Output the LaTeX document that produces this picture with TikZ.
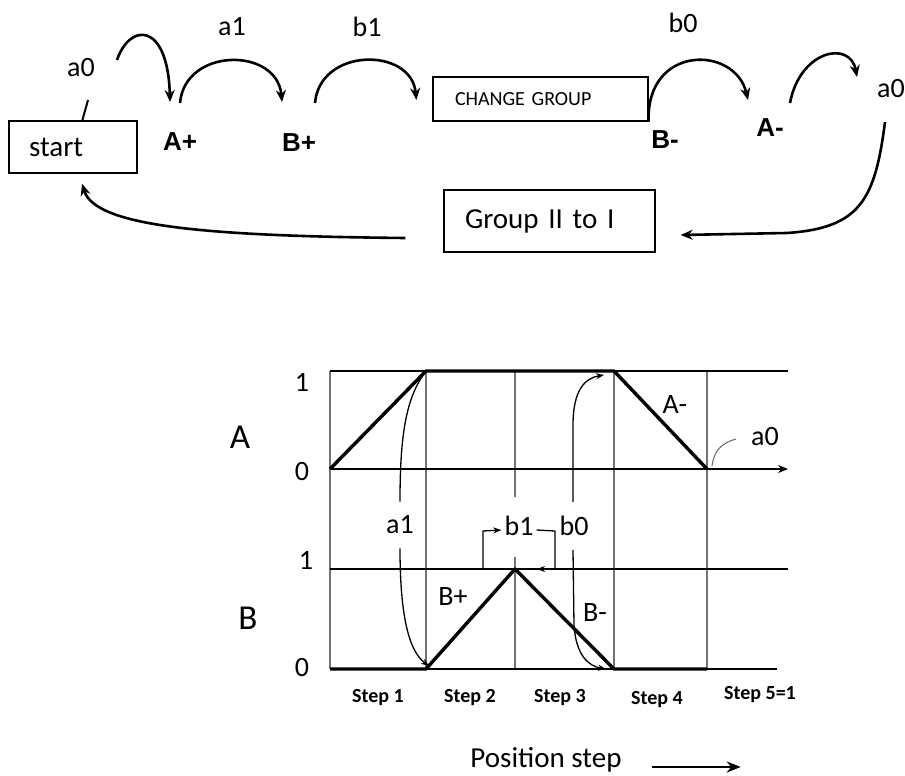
\documentclass[tikz,border=0pt]{standalone}
\usepackage{fontspec}
\setmainfont{Carlito}
\newfontfamily\arialfont{Liberation Sans}
\usetikzlibrary{arrows.meta,calc}

\begin{document}
\begin{tikzpicture}[x=1pt,y=-1pt,>=Stealth,
  box/.style={draw,line width=1.3pt,inner ysep=0pt,align=left},
  txt/.style={inner sep=0pt,font=\fontsize{28}{30}\selectfont},
  big/.style={inner sep=0pt,font=\fontsize{35}{38}\selectfont},
  cyl/.style={inner sep=0pt,font=\arialfont\bfseries\fontsize{26}{28}\selectfont},
  steplbl/.style={inner sep=0pt,font=\bfseries\fontsize{20}{22}\selectfont},
  flow/.style={line width=2.6pt,-{Stealth[length=12pt,width=10pt]}},
  sens/.style={line width=1.3pt},
  sensarr/.style={line width=1.3pt,-{Stealth[length=8pt,width=6pt]}},
  gridv/.style={draw=black!55,line width=1.3pt},
  gridh/.style={draw=black,line width=1.3pt},
  sig/.style={line width=3.4pt,line join=round}]
  \useasboundingbox (0,0) rectangle (905,776);

  % boxes of the cycle
  \node[box,minimum width=128pt,minimum height=52pt,inner xsep=20pt,text width=88pt,font=\fontsize{29}{31}\selectfont] (start) at (73,147) {start};
  \node[box,minimum width=215pt,minimum height=44pt,inner xsep=22pt,text width=171pt,font=\fontsize{20}{22}\selectfont] (chg) at (540.5,99) {CHANGE GROUP};
  \node[box,minimum width=211pt,minimum height=62pt,inner xsep=21pt,text width=169pt,font=\fontsize{29}{31}\selectfont] (grp) at (549.5,221) {Group II to I};

  % cylinder movements and sensors
  \node[cyl] (Ap) at (180,142) {A+};
  \node[cyl] (Bp) at (299,143) {B+};
  \node[cyl] (Bm) at (665,140) {B-};
  \node[cyl] (Am) at (770,128) {A-};
  \node[txt] (a0l) at (81,68) {a0};
  \node[txt] (a1l) at (232,27) {a1};
  \node[txt] (b1l) at (367,27) {b1};
  \node[txt] (b0l) at (683,23) {b0};
  \node[txt] (a0r) at (891,89) {a0};

  % flow arrows
  \draw[line width=2pt] (start.north west) ++(74,0) -- ($(a0l)+(7,32)$);
  \draw[flow] ($(a0l)+(36,-8)$) .. controls ($(a0l)+(49,-46)$) and ($(Ap)+(-12,-120)$) .. ($(Ap)+(-10,-40)$);
  \draw[flow] ($(Ap)+(0,-39)$) .. controls ($(Ap)+(5,-95)$) and ($(Bp)+(-22,-96)$) .. ($(Bp)+(-17,-41)$);
  \draw[flow] ($(Bp)+(16,-40)$) .. controls ($(Bp)+(21,-96)$) and ($(chg.west)+(-21,-52)$) .. ($(chg.west)+(-16,1)$);
  \draw[flow] (chg.south east) .. controls ($(chg.north east)+(-3,-32)$) and ($(Bm)+(70,-95)$) .. ($(Bm)+(83,-40)$);
  \draw[flow] ($(Am)+(20,-25)$) .. controls ($(Am)+(30,-78)$) and ($(a0r)+(-41,-49)$) .. ($(a0r)+(-34,-12)$);
  \draw[flow] ($(a0r)+(-6,33)$) .. controls ($(a0r)+(-16,111)$) and ($(a0r)+(-31,139)$) .. ($(a0r)+(-104,144)$) -- ($(grp.east)+(25,14)$);
  \draw[flow] ($(grp.west)+(-38,17)$) .. controls ($(grp.west)+(-244,15)$) and ($(start.south)+(22,52)$) .. ($(start.south)+(9,10)$);

  % timing chart: grid
  \draw[gridv] (330,371) -- (330,669);
  \draw[gridv] (426,371) -- (426,669);
  \draw[gridv] (515,371) -- (515,497) (515,557) -- (515,669);
  \draw[gridv] (614,371) -- (614,669);
  \draw[gridv] (707,371) -- (707,669);
  \draw[gridh] (330,371) -- (788,371);
  \draw[gridh,-{Stealth[length=10pt,width=8pt]}] (330,469) -- (788,469);
  \draw[gridh] (330,569) -- (788,569);
  \draw[gridh] (330,669) -- (777,669);

  % axis labels
  \node[big] (lblA) at (240,437) {A};
  \node[big] (lblB) at (248,618) {B};
  \node[txt] (A1) at (302,382) {1};
  \node[txt] (A0) at (302,472) {0};
  \node[txt] (B1) at (306,560) {1};
  \node[txt] (B0) at (302,668) {0};

  % signals
  \draw[sig] (330,469) -- (426,371) -- (614,371) -- (707,469);
  \draw[sig] (330,669) -- (426,669) -- (515,569) -- (614,669) -- (707,669);

  % motion and sensor labels
  \node[txt] (cAm) at (675,405) {A-};
  \node[txt] (cBp) at (453,597) {B+};
  \node[txt] (cBm) at (595,613) {B-};
  \node[txt] (ca1) at (400,525) {a1};
  \node[txt] (cb1) at (519,526) {b1};
  \node[txt] (cb0) at (574,526) {b0};
  \node[txt] (ca0) at (765,437) {a0};

  % sensor arrows
  \draw[sens] (424,374) .. controls (405,400) and (400,440) .. ($(ca1.north)+(0,-14)$);
  \draw[sensarr] ($(ca1.south)+(0,14)$) .. controls (400,620) and (410,652) .. (429,666);
  \draw[sensarr] ($(cb0.north)+(-1,-14)$) -- (573,425) .. controls (573,390) and (585,378) .. (604,375);
  \draw[sensarr] ($(cb0.south)+(-1,14)$) -- (574,625) .. controls (576,655) and (588,666) .. (606,669);
  \draw[sensarr] (515,569) -- (483,569) -- (483,531) -- ($(cb1.west)+(-3,4)$);
  \draw[sensarr] ($(cb1.east)+(3,4)$) -- (555,531) -- (555,569) -- (537,569);
  \draw[line width=1pt,black!60] (712,466) .. controls (714,450) and (722,443) .. (736,439);

  % steps
  \node[steplbl] (s1) at (378,698) {Step 1};
  \node[steplbl] (s2) at (470,698) {Step 2};
  \node[steplbl] (s3) at (560,698) {Step 3};
  \node[steplbl] (s4) at (657,700) {Step 4};
  \node[steplbl] (s5) at (760,695) {Step 5=1};
  \node[txt,font=\fontsize{29}{31}\selectfont] (pos) at (546,760) {Position step};
  \draw[line width=2.8pt,-{Stealth[length=14pt,width=11pt]}] ($(pos.east)+(30,7)$) -- ++(89,0);
\end{tikzpicture}
\end{document}
